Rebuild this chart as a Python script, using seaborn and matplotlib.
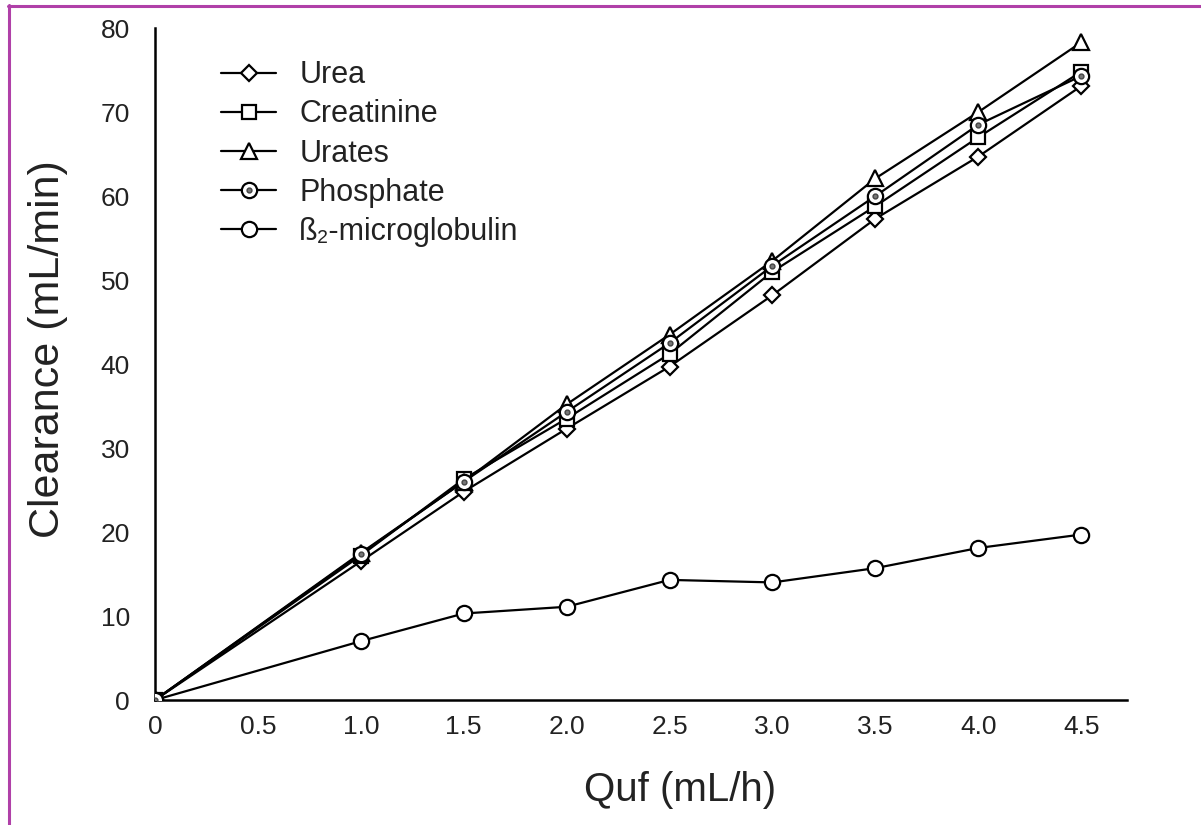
import matplotlib
matplotlib.use("Agg")
import matplotlib.pyplot as plt
import seaborn as sns
import pandas as pd
from matplotlib.legend_handler import HandlerTuple
from matplotlib.lines import Line2D

# Ultrafiltration rate (mL/h) and solute clearances (mL/min)
quf = [0, 1.0, 1.5, 2.0, 2.5, 3.0, 3.5, 4.0, 4.5]
urea = [0, 16.5, 24.8, 32.3, 39.7, 48.2, 57.3, 64.7, 73.1]
creatinine = [0, 17.2, 26.3, 33.5, 41.2, 51.0, 58.8, 67.0, 74.8]
urates = [0, 17.5, 26.0, 35.2, 43.5, 52.3, 62.1, 70.0, 78.3]
phosphate = [0, 17.4, 26.0, 34.3, 42.5, 51.7, 60.0, 68.5, 74.3]
b2m = [0, 7.0, 10.3, 11.1, 14.3, 14.0, 15.7, 18.1, 19.7]

series_names = ["Urea", "Creatinine", "Urates", "Phosphate", "ß\u2082-microglobulin"]
series_values = [urea, creatinine, urates, phosphate, b2m]
series_markers = ["D", "s", "^", "o", "o"]
series_sizes = [8, 10, 11, 11, 11]

xtick_values = [0, 0.5, 1.0, 1.5, 2.0, 2.5, 3.0, 3.5, 4.0, 4.5]
xtick_labels = ["0", "0.5", "1.0", "1.5", "2.0", "2.5", "3.0", "3.5", "4.0", "4.5"]
ytick_values = [0, 10, 20, 30, 40, 50, 60, 70, 80]

sns.set_theme(style="white")
plt.rcParams["font.family"] = ["Liberation Sans", "DejaVu Sans"]

fig = plt.figure(figsize=(12.01, 8.25), dpi=100)
ax = fig.add_axes([0.129, 0.1515, 0.809, 0.8145])

handles = []
for name, vals, mk, ms in zip(series_names, series_values, series_markers, series_sizes):
    df = pd.DataFrame({"quf": quf, "clearance": vals})
    sns.lineplot(data=df, x="quf", y="clearance", ax=ax, color="black",
                 linewidth=1.6, marker=mk, markersize=ms,
                 markerfacecolor="white", markeredgecolor="black",
                 markeredgewidth=1.6, zorder=3, legend=False)
    h = Line2D([], [], color="black", linewidth=1.6, marker=mk, markersize=ms,
               markerfacecolor="white", markeredgecolor="black", markeredgewidth=1.6)
    if name == "Phosphate":
        # centre dot marking the phosphate symbol
        ax.plot(quf, vals, linestyle="none", marker="o", markersize=3.5,
                markerfacecolor="#777777", markeredgecolor="#444444", zorder=4)
        dot = Line2D([], [], linestyle="none", marker="o", markersize=3.5,
                     markerfacecolor="#777777", markeredgecolor="#444444")
        h = (h, dot)
    handles.append(h)

ax.set_xlim(0, 4.72)
ax.set_ylim(0, 80)
ax.set_xticks(xtick_values)
ax.set_xticklabels(xtick_labels)
ax.set_yticks(ytick_values)

for side in ["top", "right"]:
    ax.spines[side].set_visible(False)
for side in ["left", "bottom"]:
    ax.spines[side].set_color("black")
    ax.spines[side].set_linewidth(1.8)

ax.tick_params(axis="both", which="major", direction="out", length=5, width=1.4,
               color="black", labelsize=19, labelcolor="#222222")
ax.tick_params(axis="y", pad=13)
ax.tick_params(axis="x", pad=6)

ax.set_xlabel("Quf (mL/h)", fontsize=29, color="#222222")
ax.set_ylabel("Clearance (mL/min)", fontsize=31, color="#222222")
ax.xaxis.set_label_coords(0.54, -0.105)
ax.yaxis.set_label_coords(-0.0895, 0.522)

leg = ax.legend(handles, series_names, loc="upper left",
                bbox_to_anchor=(0.04, 0.993), frameon=False, fontsize=22,
                handlelength=1.8, handletextpad=0.75, labelspacing=0.3,
                handler_map={tuple: HandlerTuple(ndivide=1, pad=0)})
for t in leg.get_texts():
    t.set_color("#222222")

# Magenta frame along the top and left edges of the figure
fig.add_artist(Line2D([8.5 / 1201, 8.5 / 1201], [0, 1 - 5 / 825],
                      transform=fig.transFigure, color="#b040a8", linewidth=2.2))
fig.add_artist(Line2D([7.5 / 1201, 1], [1 - 6 / 825, 1 - 6 / 825],
                      transform=fig.transFigure, color="#b040a8", linewidth=2.2))

fig.savefig("out.png", dpi=100, facecolor="white")
